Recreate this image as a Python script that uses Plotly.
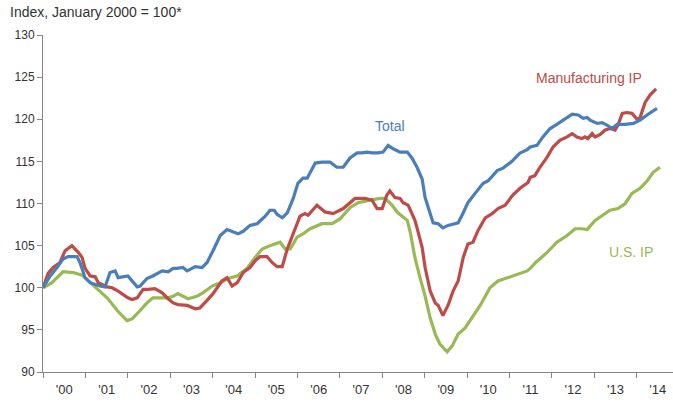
import plotly.graph_objects as go
import pandas as pd

# ---- data (decimal year, index value) ----
total_t = [2000.00, 2000.17, 2000.33, 2000.47, 2000.59, 2000.80, 2000.87, 2000.94, 2000.99, 2001.11,
           2001.34, 2001.46, 2001.58, 2001.70, 2001.77, 2002.00, 2002.22, 2002.29, 2002.45, 2002.59,
           2002.81, 2002.95, 2003.07, 2003.16, 2003.30, 2003.40, 2003.59, 2003.75, 2003.87, 2004.01,
           2004.18, 2004.34, 2004.46, 2004.60, 2004.72, 2004.88, 2005.05, 2005.24, 2005.35, 2005.45,
           2005.52, 2005.64, 2005.76, 2005.90, 2006.01, 2006.13, 2006.23, 2006.42, 2006.58, 2006.77,
           2006.93, 2007.08, 2007.24, 2007.41, 2007.52, 2007.64, 2007.76, 2007.90, 2008.02, 2008.14,
           2008.26, 2008.42, 2008.59, 2008.70, 2008.82, 2008.94, 2009.01, 2009.13, 2009.20, 2009.32,
           2009.43, 2009.55, 2009.79, 2009.91, 2010.02, 2010.19, 2010.38, 2010.50, 2010.71, 2010.85,
           2011.06, 2011.25, 2011.42, 2011.49, 2011.65, 2011.79, 2011.96, 2012.12, 2012.26, 2012.48,
           2012.62, 2012.74, 2012.83, 2012.90, 2013.07, 2013.18, 2013.30, 2013.42, 2013.54, 2013.73,
           2013.92, 2014.08, 2014.27, 2014.48]
total_v = [100.0, 101.4, 102.4, 103.4, 103.7, 103.7, 103.0, 102.0, 101.2, 100.6,
           100.2, 100.1, 101.8, 102.0, 101.2, 101.4, 100.1, 100.2, 101.1, 101.4,
           102.0, 101.9, 102.3, 102.3, 102.4, 102.0, 102.5, 102.4, 103.0, 104.4,
           106.2, 106.9, 106.7, 106.4, 106.7, 107.4, 107.6, 108.5, 109.2, 109.2,
           108.7, 108.3, 108.9, 110.6, 112.4, 113.0, 113.0, 114.8, 114.9, 114.9,
           114.3, 114.3, 115.4, 116.0, 116.0, 116.1, 116.0, 116.0, 116.1, 116.9,
           116.5, 116.1, 116.1, 115.4, 114.3, 112.9, 110.7, 108.8, 107.7, 107.6,
           107.1, 107.4, 107.7, 108.9, 110.1, 111.2, 112.4, 112.7, 113.9, 114.2,
           115.0, 116.0, 116.4, 116.7, 116.9, 117.9, 118.9, 119.4, 119.9, 120.6,
           120.5, 120.1, 120.2, 119.9, 119.5, 119.6, 119.3, 118.9, 119.4, 119.4,
           119.5, 119.9, 120.6, 121.3]

manuf_t = [2000.00, 2000.12, 2000.24, 2000.40, 2000.52, 2000.68, 2000.83, 2000.92, 2000.99, 2001.11,
           2001.23, 2001.30, 2001.51, 2001.63, 2001.77, 2001.93, 2002.00, 2002.10, 2002.22, 2002.36,
           2002.48, 2002.64, 2002.81, 2002.95, 2003.07, 2003.18, 2003.40, 2003.59, 2003.70, 2003.87,
           2004.01, 2004.22, 2004.34, 2004.46, 2004.58, 2004.72, 2004.88, 2005.00, 2005.12, 2005.28,
           2005.40, 2005.52, 2005.64, 2005.76, 2005.87, 2005.97, 2006.06, 2006.18, 2006.25, 2006.46,
           2006.65, 2006.84, 2007.08, 2007.36, 2007.59, 2007.76, 2007.88, 2008.00, 2008.11, 2008.18,
           2008.30, 2008.42, 2008.49, 2008.61, 2008.66, 2008.77, 2008.82, 2008.89, 2008.94, 2009.01,
           2009.13, 2009.25, 2009.32, 2009.43, 2009.55, 2009.67, 2009.79, 2009.91, 2010.02, 2010.14,
           2010.26, 2010.43, 2010.59, 2010.73, 2010.90, 2011.08, 2011.25, 2011.44, 2011.49, 2011.60,
           2011.72, 2011.89, 2012.03, 2012.19, 2012.36, 2012.48, 2012.59, 2012.71, 2012.78, 2012.85,
           2012.95, 2013.02, 2013.14, 2013.25, 2013.37, 2013.49, 2013.56, 2013.66, 2013.77, 2013.89,
           2014.01, 2014.08, 2014.20, 2014.32, 2014.46]
manuf_v = [100.0, 101.7, 102.4, 103.0, 104.4, 105.0, 104.2, 103.6, 102.3, 101.4,
           101.3, 100.6, 100.1, 100.0, 99.6, 99.0, 98.8, 98.6, 98.8, 99.8,
           99.8, 99.9, 99.4, 98.7, 98.2, 98.0, 97.9, 97.5, 97.6, 98.5,
           99.3, 100.8, 101.2, 100.2, 100.6, 101.8, 102.4, 103.2, 103.7, 103.7,
           103.0, 102.5, 102.5, 104.6, 106.0, 107.1, 108.5, 108.8, 108.6, 109.8,
           109.0, 108.8, 109.4, 110.6, 110.6, 110.4, 109.4, 109.4, 111.0, 111.5,
           110.7, 110.6, 110.1, 109.8, 109.2, 108.0, 107.1, 105.6, 104.8, 102.4,
           99.6, 98.2, 97.9, 96.7, 97.9, 99.6, 100.8, 103.6, 105.2, 105.4,
           106.8, 108.3, 108.8, 109.4, 109.8, 111.0, 111.8, 112.5, 113.1, 113.3,
           114.3, 115.5, 116.7, 117.5, 117.9, 118.3, 117.9, 117.7, 117.9, 117.7,
           118.3, 117.9, 118.2, 118.7, 118.9, 118.7, 119.3, 120.7, 120.8, 120.7,
           120.0, 120.2, 122.0, 122.9, 123.6]

usip_t = [2000.00, 2000.21, 2000.47, 2000.71, 2000.92, 2001.06, 2001.27, 2001.51, 2001.75, 2001.98,
          2002.10, 2002.29, 2002.45, 2002.59, 2002.81, 2002.95, 2003.07, 2003.18, 2003.42, 2003.63,
          2003.77, 2003.99, 2004.18, 2004.36, 2004.58, 2004.81, 2005.00, 2005.17, 2005.35, 2005.59,
          2005.71, 2005.83, 2005.99, 2006.13, 2006.30, 2006.58, 2006.82, 2007.01, 2007.24, 2007.43,
          2007.71, 2007.95, 2008.07, 2008.23, 2008.37, 2008.59, 2008.66, 2008.77, 2008.89, 2009.01,
          2009.13, 2009.25, 2009.36, 2009.53, 2009.65, 2009.79, 2009.95, 2010.12, 2010.31, 2010.54,
          2010.73, 2010.85, 2011.06, 2011.25, 2011.42, 2011.49, 2011.62, 2011.89, 2012.12, 2012.36,
          2012.55, 2012.71, 2012.83, 2013.02, 2013.21, 2013.37, 2013.56, 2013.73, 2013.89, 2014.08,
          2014.25, 2014.39, 2014.55]
usip_v = [100.0, 100.6, 101.9, 101.8, 101.5, 100.9, 99.9, 98.8, 97.3, 96.1,
          96.3, 97.3, 98.2, 98.8, 98.8, 98.8, 99.0, 99.3, 98.7, 99.0,
          99.4, 100.2, 100.6, 101.1, 101.4, 102.3, 103.6, 104.6, 105.0, 105.4,
          104.6, 104.6, 106.0, 106.4, 107.0, 107.6, 107.6, 108.2, 109.5, 110.1,
          110.4, 110.6, 110.6, 109.8, 108.9, 108.0, 106.6, 103.6, 101.2, 99.0,
          96.4, 94.5, 93.3, 92.4, 93.1, 94.5, 95.2, 96.4, 97.9, 100.0,
          100.8, 101.0, 101.4, 101.7, 102.0, 102.3, 103.0, 104.2, 105.4, 106.2,
          107.0, 107.0, 106.9, 108.0, 108.6, 109.2, 109.4, 110.0, 111.2, 111.8,
          112.7, 113.7, 114.3]

first_year = 2000
year_tick_format = "'%y"


def to_date(y):
    yr = int(y)
    start = pd.Timestamp(yr, 1, 1)
    end = pd.Timestamp(yr + 1, 1, 1)
    return start + (end - start) * (y - yr)


def dates(ts):
    return [to_date(t) for t in ts]


BLUE = "#4A7EBB"
RED = "#BE4B48"
GREEN = "#98B954"
FONT = "Liberation Sans, Arial, sans-serif"

fig = go.Figure()
fig.add_trace(go.Scatter(x=dates(usip_t), y=usip_v, mode="lines", name="U.S. IP",
                         line=dict(color=GREEN, width=3.2)))
fig.add_trace(go.Scatter(x=dates(manuf_t), y=manuf_v, mode="lines", name="Manufacturing IP",
                         line=dict(color=RED, width=3.2)))
fig.add_trace(go.Scatter(x=dates(total_t), y=total_v, mode="lines", name="Total",
                         line=dict(color=BLUE, width=3.2)))

fig.update_layout(
    width=673, height=403,
    margin=dict(l=43, r=0, t=35, b=31),
    paper_bgcolor="white", plot_bgcolor="white",
    showlegend=False,
    font=dict(family=FONT, size=12, color="#333333"),
    xaxis=dict(
        type="date",
        range=[to_date(2000.0), to_date(2014.858)],
        tick0="%d-01-01" % first_year, dtick="M12", tickformat=year_tick_format,
        ticklabelmode="period",
        ticks="outside", ticklen=5, tickcolor="#868686",
        showline=True, linecolor="#868686", linewidth=1,
        showgrid=False, zeroline=False,
        tickfont=dict(size=13, color="#333333"),
    ),
    yaxis=dict(
        range=[90, 130], dtick=5, tick0=90,
        ticks="outside", ticklen=5, tickcolor="#868686",
        showline=True, linecolor="#868686", linewidth=1,
        showgrid=False, zeroline=False,
        tickfont=dict(size=12, color="#333333"),
    ),
    annotations=[
        dict(text="Index, January 2000 = 100*", xref="paper", yref="paper",
             x=-0.0556, y=1.068, xanchor="left", yanchor="middle", showarrow=False,
             font=dict(size=14, color="#333333")),
        dict(text="Total", x=to_date(2008.18), y=119.2, showarrow=False,
             font=dict(size=14, color=BLUE)),
        dict(text="Manufacturing IP", x=to_date(2012.88), y=124.9, showarrow=False,
             font=dict(size=14, color=RED)),
        dict(text="U.S. IP", x=to_date(2013.87), y=104.2, showarrow=False,
             font=dict(size=14, color=GREEN)),
    ],
)

fig.write_html("out.html", config={"displayModeBar": False},
               post_script="document.body.style.margin='0';")
